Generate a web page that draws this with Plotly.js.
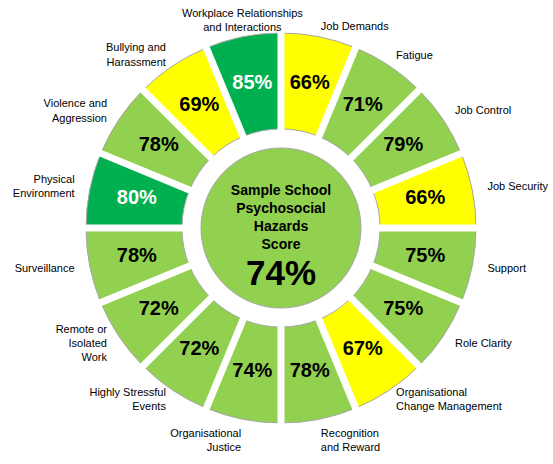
<!DOCTYPE html>
<html>
<head>
<meta charset="utf-8">
<script src="https://cdn.plot.ly/plotly-3.0.1.min.js"></script>
<style>
  html, body { margin: 0; padding: 0; background: #ffffff; }
  #grafico { width: 553px; height: 464px; }
</style>
</head>
<body>
<div id="grafico"></div>
<script>
"use strict";

// Hazards clockwise from 12 o'clock
const categorias = [
    'Job Demands', 'Fatigue', 'Job Control', 'Job Security', 'Support',
    'Role Clarity', 'Organisational Change Management', 'Recognition and Reward',
    'Organisational Justice', 'Highly Stressful Events', 'Remote or Isolated Work',
    'Surveillance', 'Physical Environment', 'Violence and Aggression',
    'Bullying and Harassment', 'Workplace Relationships and Interactions'
];
const etiquetas = [
    'Job Demands', 'Fatigue', 'Job Control', 'Job Security', 'Support',
    'Role Clarity', 'Organisational<br>Change Management', 'Recognition<br>and Reward',
    'Organisational<br>Justice', 'Highly Stressful<br>Events', 'Remote or<br>Isolated<br>Work',
    'Surveillance', 'Physical<br>Environment', 'Violence and<br>Aggression',
    'Bullying and<br>Harassment', 'Workplace Relationships<br>and Interactions'
];
const puntajes = [66, 71, 79, 66, 75, 75, 67, 78, 74, 72, 72, 78, 80, 78, 69, 85];
const puntajeTotal = 74;
const tituloCentro = 'Sample School<br>Psychosocial<br>Hazards<br>Score';

// Colour bands
function colorPuntaje(v) {
    if (v >= 80) return '#00B050';
    if (v >= 70) return '#92D050';
    return '#FFFF00';
}

const n = categorias.length;
const paso = 360 / n;
const angulos = categorias.map((c, i) => i * paso + paso / 2);
const base = 0.508;   // inner edge of the ring (outer edge = 1)

// Anchor and distance of each outer label, depending on its side
function posicionEtiqueta(t) {
    if (t >= 340) return 'top center';
    if (t < 160) return 'middle right';
    if (t < 180) return 'bottom right';
    if (t < 200) return 'bottom left';
    return 'middle left';
}
function radioEtiqueta(t) {
    if (t >= 340) return 1.015;
    return 1.04 + 0.04 * Math.abs(Math.sin(t * Math.PI / 180));
}

const traceSegmentos = {
    type: 'barpolar',
    subplot: 'polar',
    r: categorias.map(() => 1 - base),
    base: categorias.map(() => base),
    theta: angulos,
    width: categorias.map(() => paso),
    marker: {
        color: puntajes.map(colorPuntaje),
        line: { color: '#a6a6a6', width: 1 }
    },
    hoverinfo: 'skip'
};

// White gaps of constant width between segments
const rSep = [], tSep = [];
for (let i = 0; i < n; i++) {
    rSep.push(base - 0.03, 1.03, null);
    tSep.push(i * paso, i * paso, null);
}
const traceSeparadores = {
    type: 'scatterpolar',
    subplot: 'polar',
    mode: 'lines',
    r: rSep,
    theta: tSep,
    line: { color: '#ffffff', width: 7 },
    connectgaps: false,
    hoverinfo: 'skip'
};

const tracePorcentajes = {
    type: 'scatterpolar',
    subplot: 'polar',
    mode: 'text',
    r: categorias.map(() => (base + 1) / 2),
    theta: angulos,
    text: puntajes.map(v => '<b>' + v + '%</b>'),
    textposition: 'middle center',
    textfont: {
        family: 'Liberation Sans, Arial, sans-serif',
        size: 20,
        color: puntajes.map(v => v >= 80 ? '#ffffff' : '#000000')
    },
    cliponaxis: false,
    hoverinfo: 'skip'
};

const traceEtiquetas = {
    type: 'scatterpolar',
    subplot: 'polar',
    mode: 'text',
    r: angulos.map(radioEtiqueta),
    theta: angulos,
    text: etiquetas,
    textposition: angulos.map(posicionEtiqueta),
    textfont: { family: 'Liberation Sans, Arial, sans-serif', size: 11, color: '#000000' },
    cliponaxis: false,
    hoverinfo: 'skip'
};

// Centre disc text
const traceCentro = {
    type: 'scatterpolar',
    subplot: 'polar2',
    mode: 'text',
    r: [0.12, 0.6],
    theta: [0, 180],
    text: ['<b>' + tituloCentro + '</b>', '<b>' + puntajeTotal + '%</b>'],
    textposition: 'middle center',
    textfont: { family: 'Liberation Sans, Arial, sans-serif', size: [14, 35], color: '#000000' },
    cliponaxis: false,
    hoverinfo: 'skip'
};

const layout = {
    width: 553,
    height: 464,
    margin: { l: 0, r: 0, t: 0, b: 0 },
    paper_bgcolor: '#ffffff',
    showlegend: false,
    polar: {
        domain: { x: [0.12025, 0.89602], y: [0.04634, 0.97091] },
        bgcolor: 'rgba(0,0,0,0)',
        radialaxis: { visible: false, range: [0, 1.1] },
        angularaxis: { visible: false, direction: 'clockwise', rotation: 90 }
    },
    polar2: {
        domain: { x: [0.36347, 0.65280], y: [0.33621, 0.68103] },
        bgcolor: colorPuntaje(puntajeTotal),
        radialaxis: { visible: false, range: [0, 1] },
        angularaxis: {
            visible: true,
            showticklabels: false,
            ticks: '',
            showgrid: false,
            showline: true,
            linecolor: '#a6a6a6',
            linewidth: 1,
            direction: 'clockwise',
            rotation: 90
        }
    }
};

const config = { displayModeBar: false, staticPlot: true };

Plotly.newPlot('grafico',
    [traceSegmentos, traceSeparadores, tracePorcentajes, traceEtiquetas, traceCentro],
    layout, config);
</script>
</body>
</html>
